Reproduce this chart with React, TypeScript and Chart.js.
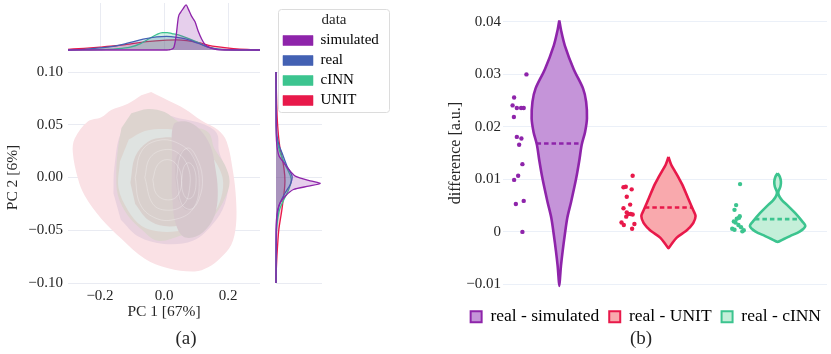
import React, { useEffect, useRef } from 'react';
import { Chart, registerables } from 'chart.js';

Chart.register(...registerables);

const SERIF = "'Liberation Serif', 'Times New Roman', serif";
const INK = '#262626';
Chart.defaults.font.family = SERIF;
Chart.defaults.color = INK;

// ================= Panel (a) =================
const GROUPS = ['simulated', 'real', 'cINN', 'UNIT'];
const GROUP_COLORS = ['#8e24aa', '#4361b3', '#3cc48f', '#e8194a'];
const PC1_TICKS = [-0.2, 0, 0.2];
const PC2_TICKS = [-0.1, -0.05, 0, 0.05, 0.1];

// marginal KDE along PC 1: [pc1, relative density]
const SIM_PC1 = [[-0.3, 0], [0, 0], [0.015, 0.004], [0.025, 0.02], [0.031, 0.06], [0.0375, 0.28], [0.045, 0.7], [0.052, 0.8], [0.06, 0.88], [0.069, 0.96], [0.076, 0.87], [0.086, 0.72], [0.097, 0.6], [0.107, 0.4], [0.118, 0.23], [0.128, 0.12], [0.144, 0.05], [0.165, 0.01], [0.2, 0], [0.3, 0]];
const REAL_PC1 = [[-0.3, 0], [-0.25, 0.015], [-0.2, 0.045], [-0.15, 0.09], [-0.117, 0.14], [-0.065, 0.23], [-0.023, 0.28], [0.008, 0.29], [0.04, 0.27], [0.07, 0.23], [0.092, 0.18], [0.12, 0.11], [0.144, 0.05], [0.17, 0.02], [0.2, 0.008], [0.25, 0.002], [0.3, 0]];
const CINN_PC1 = [[-0.3, 0], [-0.2, 0.01], [-0.15, 0.025], [-0.106, 0.06], [-0.075, 0.13], [-0.044, 0.25], [-0.023, 0.33], [-0.005, 0.37], [0.01, 0.37], [0.025, 0.35], [0.045, 0.32], [0.071, 0.26], [0.0925, 0.2], [0.1125, 0.14], [0.133, 0.07], [0.165, 0.02], [0.2, 0.005], [0.3, 0]];
const UNIT_PC1 = [[-0.3, 0.015], [-0.25, 0.035], [-0.2, 0.06], [-0.15, 0.09], [-0.117, 0.12], [-0.054, 0.18], [0.008, 0.21], [0.04, 0.215], [0.071, 0.2], [0.1125, 0.15], [0.14, 0.1], [0.165, 0.07], [0.217, 0.03], [0.26, 0.012], [0.3, 0.004]];

// marginal KDE along PC 2: [relative density, pc2]
const SIM_PC2 = [[0, 0.1], [0, 0.05], [0.01, 0.035], [0.03, 0.027], [0.07, 0.02], [0.17, 0.014], [0.28, 0.0076], [0.42, 0.0013], [0.78, -0.0035], [0.96, -0.0057], [0.71, -0.0082], [0.38, -0.0114], [0.2, -0.0177], [0.09, -0.024], [0.04, -0.03], [0.01, -0.04], [0, -0.05], [0, -0.1]];
const REAL_PC2 = [[0, 0.1], [0.005, 0.06], [0.02, 0.04], [0.07, 0.03], [0.13, 0.0234], [0.24, 0.0107], [0.35, 0.0013], [0.31, -0.0066], [0.2, -0.0145], [0.09, -0.024], [0.04, -0.032], [0.02, -0.04], [0.005, -0.06], [0, -0.1]];
const CINN_PC2 = [[0, 0.1], [0.005, 0.05], [0.02, 0.035], [0.08, 0.025], [0.2, 0.012], [0.31, 0.002], [0.33, -0.004], [0.27, -0.012], [0.16, -0.022], [0.08, -0.03], [0.035, -0.04], [0.01, -0.05], [0, -0.1]];
const UNIT_PC2 = [[0, 0.1], [0.005, 0.09], [0.015, 0.07], [0.035, 0.05], [0.08, 0.03], [0.15, 0.015], [0.19, 0.002], [0.19, -0.008], [0.13, -0.03], [0.06, -0.05], [0.02, -0.075], [0.005, -0.09], [0, -0.1]];

// joint KDE filled contour regions: [pc1, pc2]
const UNIT_LEVEL0 = [[-0.04, 0.081], [0.013, 0.073], [0.065, 0.065], [0.117, 0.054], [0.169, 0.045], [0.196, 0.034], [0.216, 0.005], [0.225, -0.02], [0.225, -0.045], [0.21, -0.064], [0.174, -0.077], [0.138, -0.085], [0.096, -0.089], [0.013, -0.086], [-0.06, -0.077], [-0.133, -0.058], [-0.196, -0.039], [-0.248, -0.017], [-0.269, -0.001], [-0.285, 0.024], [-0.279, 0.037], [-0.238, 0.053], [-0.196, 0.057], [-0.165, 0.064], [-0.113, 0.07], [-0.071, 0.078]];
const SIM_LEVEL0 = [[-0.158, -0.015], [-0.155, 0.01], [-0.13, 0.045], [-0.06, 0.062], [0.05, 0.056], [0.12, 0.051], [0.165, 0.042], [0.172, 0.025], [0.2, 0.0], [0.19, -0.025], [0.15, -0.045], [0.09, -0.06], [0.0, -0.063], [-0.08, -0.056], [-0.135, -0.04]];
const REAL_LEVEL0 = [[-0.102, 0.061], [-0.05, 0.065], [0.002, 0.062], [0.044, 0.053], [0.075, 0.049], [0.138, 0.043], [0.158, 0.027], [0.19, 0.012], [0.205, -0.004], [0.19, -0.02], [0.158, -0.036], [0.117, -0.049], [0.054, -0.055], [-0.019, -0.06], [-0.071, -0.049], [-0.113, -0.036], [-0.144, -0.017], [-0.149, 0.005], [-0.144, 0.027], [-0.133, 0.047]];
const CINN_LEVEL1 = [[-0.11, 0.036], [-0.06, 0.044], [0.0, 0.046], [0.05, 0.044], [0.1, 0.036], [0.15, 0.02], [0.183, 0.0], [0.178, -0.02], [0.15, -0.036], [0.1, -0.046], [0.04, -0.051], [-0.02, -0.051], [-0.07, -0.046], [-0.113, -0.031], [-0.142, -0.01], [-0.138, 0.015]];
const REAL_LEVEL1 = [[-0.105, -0.005], [-0.09, 0.02], [-0.05, 0.034], [0.0, 0.038], [0.05, 0.036], [0.1, 0.026], [0.135, 0.006], [0.135, -0.02], [0.1, -0.037], [0.05, -0.045], [0.0, -0.046], [-0.05, -0.04], [-0.09, -0.025]];
const SIM_LEVEL1 = [[0.025, 0.02], [0.03, 0.05], [0.07, 0.053], [0.11, 0.046], [0.145, 0.03], [0.16, 0.01], [0.168, -0.012], [0.162, -0.032], [0.14, -0.046], [0.1, -0.056], [0.06, -0.056], [0.035, -0.042], [0.024, -0.012]];
const SIM_LEVEL2 = [[0.035, 0.0], [0.04, 0.02], [0.07, 0.026], [0.1, 0.016], [0.112, -0.005], [0.1, -0.025], [0.07, -0.031], [0.045, -0.021]];
// inner contour lines
const REAL_LINE1 = [[-0.09, 0.0], [-0.07, 0.025], [-0.02, 0.035], [0.04, 0.033], [0.09, 0.02], [0.11, -0.005], [0.09, -0.03], [0.03, -0.04], [-0.03, -0.038], [-0.075, -0.025], [-0.09, 0.0]];
const REAL_LINE2 = [[-0.06, 0.0], [-0.045, 0.018], [-0.005, 0.026], [0.04, 0.024], [0.075, 0.01], [0.08, -0.01], [0.06, -0.026], [0.01, -0.031], [-0.035, -0.025], [-0.06, 0.0]];
const REAL_LINE3 = [[-0.035, -0.002], [-0.02, 0.012], [0.01, 0.017], [0.04, 0.012], [0.055, -0.003], [0.04, -0.018], [0.005, -0.021], [-0.025, -0.015], [-0.035, -0.002]];
const SIM_LINE1 = [[0.04, 0.0], [0.05, 0.02], [0.075, 0.028], [0.1, 0.02], [0.12, 0.0], [0.11, -0.02], [0.085, -0.03], [0.055, -0.025], [0.04, 0.0]];
const SIM_LINE2 = [[0.055, -0.003], [0.062, 0.01], [0.078, 0.014], [0.095, 0.008], [0.1, -0.006], [0.09, -0.018], [0.072, -0.02], [0.058, -0.013], [0.055, -0.003]];

// ================= Panel (b) =================
const VIOLIN_LABELS = ['real - simulated', 'real - UNIT', 'real - cINN'];
const VIOLIN_COLORS = ['#8e24aa', '#e8194a', '#3cc48f'];
const VIOLIN_FILLS = ['#c594d9', '#f9a9ad', '#c4efd9'];
const DIFF_TICKS = [-0.01, 0, 0.01, 0.02, 0.03, 0.04];

const SIM_DIFF = [0.03, 0.0256, 0.0241, 0.0236, 0.0236, 0.0236, 0.0219, 0.0181, 0.0178, 0.0166, 0.0129, 0.0107, 0.0099, 0.0059, 0.0053, 0.0];
const SIM_JITTER = [-0.301, -0.414, -0.428, -0.389, -0.35, -0.326, -0.416, -0.389, -0.347, -0.368, -0.338, -0.377, -0.414, -0.326, -0.398, -0.338];
const UNIT_DIFF = [0.0107, 0.0086, 0.0085, 0.0081, 0.0067, 0.0052, 0.0045, 0.0037, 0.0034, 0.0034, 0.0033, 0.0029, 0.0018, 0.0015, 0.0013, 0.0006];
const UNIT_JITTER = [-0.328, -0.391, -0.412, -0.337, -0.382, -0.351, -0.412, -0.382, -0.367, -0.346, -0.328, -0.387, -0.43, -0.312, -0.409, -0.333];
const CINN_DIFF = [0.0091, 0.0051, 0.0042, 0.003, 0.0025, 0.0027, 0.002, 0.0018, 0.0013, 0.0006, 0.0004, 0.0009, 0.0003, 0.0001];
const CINN_JITTER = [-0.344, -0.38, -0.395, -0.347, -0.374, -0.353, -0.401, -0.386, -0.359, -0.416, -0.395, -0.335, -0.31, -0.323];

// violin density profiles, top to bottom: [difference, relative density]
const SIM_PROFILE = [[0.0403, 0], [0.0385, 0.06], [0.0355, 0.2], [0.031, 0.52], [0.0273, 0.86], [0.0248, 0.97], [0.0216, 1.0], [0.019, 0.93], [0.0166, 0.81], [0.0135, 0.72], [0.0102, 0.61], [0.0058, 0.43], [0.0027, 0.29], [-0.0005, 0.2], [-0.0037, 0.12], [-0.0065, 0.06], [-0.0085, 0.03], [-0.0103, 0]];
const UNIT_PROFILE = [[0.0143, 0], [0.0128, 0.1], [0.0115, 0.24], [0.0102, 0.38], [0.009, 0.5], [0.0064, 0.71], [0.0042, 0.89], [0.003, 0.98], [0.0017, 0.9], [0.0008, 0.76], [0.0001, 0.62], [-0.0011, 0.3], [-0.0024, 0.1], [-0.0031, 0]];
const CINN_PROFILE = [[0.0112, 0], [0.0105, 0.08], [0.0096, 0.12], [0.0086, 0.1], [0.0077, 0.03], [0.0072, 0.03], [0.0066, 0.08], [0.0059, 0.18], [0.0052, 0.33], [0.0036, 0.63], [0.002, 0.89], [0.0011, 1.0], [0.0001, 0.81], [-0.0008, 0.45], [-0.0014, 0.21], [-0.0019, 0]];

// ================= helpers =================
const GRID_A = '#e9ebf2';
const GRID_B = '#ebf0f8';
const pts = (arr: number[][]) => arr.map(([x, y]) => ({ x, y }));
const rgba = (hex: string, a: number) => {
  const n = parseInt(hex.slice(1), 16);
  return `rgba(${(n >> 16) & 255},${(n >> 8) & 255},${n & 255},${a})`;
};
const minus = (s: string) => s.replace('-', '\u2212');
const fixedTicks = (list: number[]) => (axis: any) => {
  axis.ticks = list.map((v) => ({ value: v }));
};
const withOrder = (ds: any[]) => ds.map((d, i) => ({ ...d, order: ds.length - i }));
const base = {
  responsive: false,
  animation: false,
  devicePixelRatio: 1,
  events: [],
};

function topMarginalConfig(): any {
  const series = [UNIT_PC1, CINN_PC1, REAL_PC1, SIM_PC1];
  const colors = [GROUP_COLORS[3], GROUP_COLORS[2], GROUP_COLORS[1], GROUP_COLORS[0]];
  return {
    type: 'scatter',
    data: {
      datasets: withOrder(series.map((s, i) => ({
        data: pts(s), showLine: true, borderColor: colors[i], backgroundColor: rgba(colors[i], 0.22),
        borderWidth: 1.3, pointRadius: 0, fill: 'origin', cubicInterpolationMode: 'monotone', clip: false,
      }))),
    },
    options: {
      ...base,
      layout: { padding: { left: 68, right: 2, top: 3, bottom: 6 } },
      plugins: { legend: { display: false }, tooltip: { enabled: false } },
      scales: {
        x: {
          type: 'linear', min: -0.3, max: 0.3, afterBuildTicks: fixedTicks(PC1_TICKS),
          ticks: { display: false }, grid: { color: GRID_A, drawTicks: false }, border: { display: false },
          afterFit: (a: any) => { a.height = 0; },
        },
        y: { type: 'linear', min: 0, max: 1, display: false },
      },
    },
  };
}

function rightMarginalConfig(): any {
  const series = [UNIT_PC2, CINN_PC2, REAL_PC2, SIM_PC2];
  const colors = [GROUP_COLORS[3], GROUP_COLORS[2], GROUP_COLORS[1], GROUP_COLORS[0]];
  return {
    type: 'scatter',
    data: {
      datasets: withOrder(series.map((s, i) => ({
        data: pts(s), showLine: true, borderColor: colors[i], backgroundColor: rgba(colors[i], 0.22),
        borderWidth: 1.3, pointRadius: 0, fill: 'shape', tension: 0.25, clip: false,
      }))),
    },
    options: {
      ...base,
      layout: { padding: { left: 14, right: 10, top: 12, bottom: 7 } },
      plugins: { legend: { display: false }, tooltip: { enabled: false } },
      scales: {
        x: { type: 'linear', min: 0, max: 1, display: false },
        y: {
          type: 'linear', min: -0.1, max: 0.1, afterBuildTicks: fixedTicks(PC2_TICKS),
          ticks: { display: false }, grid: { color: GRID_A, drawTicks: false }, border: { display: false },
          afterFit: (a: any) => { a.width = 0; },
        },
      },
    },
  };
}

function mainConfig(): any {
  const regions = [UNIT_LEVEL0, SIM_LEVEL0, REAL_LEVEL0, CINN_LEVEL1, REAL_LEVEL1, SIM_LEVEL1, SIM_LEVEL2];
  const regionColors = ['#fae1e5', '#e9d2de', '#ddd4cf', '#dfe3e1', '#d9d0cd', '#d7c8cd', '#d1c2c8'];
  const lines = [REAL_LINE1, REAL_LINE2, REAL_LINE3, SIM_LINE1, SIM_LINE2];
  const ds: any[] = [];
  regions.forEach((r, i) => ds.push({
    data: pts(r), showLine: true, borderWidth: 0, borderColor: 'rgba(0,0,0,0)', backgroundColor: regionColors[i],
    pointRadius: 0, fill: 'shape', tension: 0.35,
  }));
  lines.forEach((l) => ds.push({
    data: pts(l), showLine: true, borderWidth: 0.7, borderColor: 'rgba(255,255,255,0.38)',
    pointRadius: 0, fill: false, tension: 0.4,
  }));
  return {
    type: 'scatter',
    data: { datasets: withOrder(ds) },
    options: {
      ...base,
      layout: { padding: { left: 0, right: 2, top: 72, bottom: 0 } },
      plugins: { legend: { display: false }, tooltip: { enabled: false } },
      scales: {
        x: {
          type: 'linear', min: -0.3, max: 0.3, afterBuildTicks: fixedTicks(PC1_TICKS),
          ticks: { font: { size: 15 }, padding: -4, autoSkip: false, maxRotation: 0, callback: (v: any) => minus(Number(v).toFixed(1)) },
          grid: { display: false }, border: { display: false },
          title: { display: true, text: 'PC 1 [67%]', font: { size: 15.5 }, padding: { top: 0, bottom: 9 } },
          afterFit: (a: any) => { a.height = 47; },
        },
        y: {
          type: 'linear', min: -0.1, max: 0.1, afterBuildTicks: fixedTicks(PC2_TICKS),
          ticks: { font: { size: 15 }, padding: 5, autoSkip: false, callback: (v: any) => minus(Number(v).toFixed(2)) },
          grid: { color: GRID_A, drawTicks: false }, border: { display: false },
          title: { display: true, text: 'PC 2 [6%]', font: { size: 15.5 }, padding: { top: 4, bottom: 0 } },
          afterFit: (a: any) => { a.width = 68; },
        },
      },
    },
  };
}

const legendFrame = {
  id: 'legendFrame',
  beforeDraw(chart: any) {
    const { ctx } = chart;
    ctx.save();
    ctx.beginPath();
    ctx.roundRect(0.5, 0.5, 111, 103, 3);
    ctx.fillStyle = '#ffffff';
    ctx.fill();
    ctx.strokeStyle = '#dcdcdc';
    ctx.lineWidth = 1;
    ctx.stroke();
    ctx.restore();
  },
};

function legendAConfig(): any {
  return {
    type: 'bar',
    data: {
      labels: [],
      datasets: GROUPS.map((g, i) => ({ label: g, data: [], backgroundColor: GROUP_COLORS[i] })),
    },
    plugins: [legendFrame],
    options: {
      ...base,
      layout: { padding: 0 },
      scales: { x: { display: false }, y: { display: false } },
      plugins: {
        tooltip: { enabled: false },
        title: { display: true, text: 'data', font: { size: 15, lineHeight: 1, weight: 'normal' }, color: INK, padding: { top: 4, bottom: 0 } },
        legend: {
          position: 'top', align: 'start',
          labels: {
            boxWidth: 30, boxHeight: 10, padding: 5, font: { size: 15 }, color: INK,
            generateLabels: () => GROUPS.map((g, i) => ({
              text: g, fillStyle: GROUP_COLORS[i], strokeStyle: rgba(GROUP_COLORS[i], 0.55), lineWidth: 1, hidden: false, datasetIndex: i,
            })),
          },
        },
      },
    },
  };
}

// ---- violin panel ----
const HALF_WIDTH = 0.2534; // half-width (category units) at density 1
const X_MIN = -0.5158;
const X_MAX = 2.4525;

function densityAt(profile: number[][], v: number) {
  for (let i = 0; i < profile.length - 1; i++) {
    const [v0, d0] = profile[i];
    const [v1, d1] = profile[i + 1];
    if (v <= v0 && v >= v1) return d0 + ((v - v0) / (v1 - v0)) * (d1 - d0);
  }
  return 0;
}
function violinOutline(center: number, profile: number[][]) {
  const left = profile.map(([v, d]) => ({ x: center - d * HALF_WIDTH, y: v }));
  const right = profile.slice().reverse().map(([v, d]) => ({ x: center + d * HALF_WIDTH, y: v }));
  return left.concat(right.slice(1));
}
const mean = (a: number[]) => a.reduce((s, v) => s + v, 0) / a.length;

function violinConfig(): any {
  const groups = [
    { values: SIM_DIFF, jitter: SIM_JITTER, profile: SIM_PROFILE },
    { values: UNIT_DIFF, jitter: UNIT_JITTER, profile: UNIT_PROFILE },
    { values: CINN_DIFF, jitter: CINN_JITTER, profile: CINN_PROFILE },
  ];
  const ds: any[] = [];
  groups.forEach((g, i) => {
    const c = VIOLIN_COLORS[i];
    ds.push({
      label: VIOLIN_LABELS[i], data: violinOutline(i, g.profile), showLine: true, fill: 'shape',
      borderColor: c, backgroundColor: VIOLIN_FILLS[i], borderWidth: 2.6, borderJoinStyle: 'round',
      pointRadius: 0, tension: 0.3,
    });
    const m = mean(g.values);
    const hw = densityAt(g.profile, m) * HALF_WIDTH;
    ds.push({
      data: [{ x: i - hw, y: m }, { x: i + hw, y: m }], showLine: true, fill: false,
      borderColor: c, borderWidth: 2.6, borderDash: [4.5, 3], pointRadius: 0,
    });
    ds.push({
      data: g.values.map((v, k) => ({ x: i + g.jitter[k], y: v })), showLine: false,
      backgroundColor: c, borderWidth: 0, pointRadius: 2.2,
    });
  });
  return {
    type: 'scatter',
    data: { datasets: withOrder(ds) },
    options: {
      ...base,
      layout: { padding: { left: 22, right: 0, top: 8, bottom: 59 } },
      plugins: { tooltip: { enabled: false }, legend: { display: false } },
      scales: {
        x: { type: 'linear', min: X_MIN, max: X_MAX, display: false },
        y: {
          type: 'linear', min: -0.012027, max: 0.042083, afterBuildTicks: fixedTicks(DIFF_TICKS),
          ticks: { font: { size: 15 }, padding: 2, autoSkip: false, callback: (v: any) => minus(String(Number(Number(v).toFixed(2)))) },
          grid: { color: GRID_B, drawTicks: false }, border: { display: false },
          title: { display: true, text: 'difference [a.u.]', font: { size: 16 }, padding: { top: 4, bottom: 0 } },
          afterFit: (a: any) => { a.width = 61; },
        },
      },
    },
  };
}

function legendBConfig(): any {
  return {
    type: 'scatter',
    data: { datasets: VIOLIN_LABELS.map((t, i) => ({ label: t, data: [], backgroundColor: VIOLIN_FILLS[i], borderColor: VIOLIN_COLORS[i] })) },
    options: {
      ...base,
      layout: { padding: { left: 22, right: 0, top: 0, bottom: 0 } },
      scales: { x: { display: false }, y: { display: false } },
      plugins: {
        tooltip: { enabled: false },
        legend: {
          position: 'top', align: 'end',
          labels: {
            boxWidth: 11, boxHeight: 11, padding: 10, font: { size: 17.5 }, color: INK,
            generateLabels: () => VIOLIN_LABELS.map((t, i) => ({
              text: t, fillStyle: VIOLIN_FILLS[i], strokeStyle: VIOLIN_COLORS[i], lineWidth: 2, hidden: false, datasetIndex: i,
            })),
          },
        },
      },
    },
  };
}

function ChartBox({ left, top, width, height, make }: { left: number; top: number; width: number; height: number; make: () => any }) {
  const ref = useRef<HTMLCanvasElement>(null);
  useEffect(() => {
    const chart = new Chart(ref.current as HTMLCanvasElement, make());
    return () => chart.destroy();
  }, []);
  return <canvas ref={ref} width={width} height={height} style={{ position: 'absolute', left, top, width, height }} />;
}

const captionStyle = (cx: number): React.CSSProperties => ({
  position: 'absolute', left: cx - 50, width: 100, top: 326, height: 24, lineHeight: '24px',
  textAlign: 'center', fontFamily: SERIF, fontSize: 19, color: INK,
});

export default function App() {
  return (
    <div style={{ position: 'absolute', left: 0, top: 0, width: 831, height: 354, background: '#ffffff', overflow: 'hidden' }}>
      <ChartBox left={0} top={0} width={262} height={56} make={topMarginalConfig} />
      <ChartBox left={0} top={0} width={262} height={330} make={mainConfig} />
      <ChartBox left={262} top={60} width={70} height={230} make={rightMarginalConfig} />
      <ChartBox left={278} top={9} width={112} height={200} make={legendAConfig} />
      <ChartBox left={420} top={0} width={411} height={354} make={violinConfig} />
      <ChartBox left={420} top={298} width={411} height={90} make={legendBConfig} />
      <div style={captionStyle(186)}>(a)</div>
      <div style={captionStyle(641)}>(b)</div>
    </div>
  );
}
